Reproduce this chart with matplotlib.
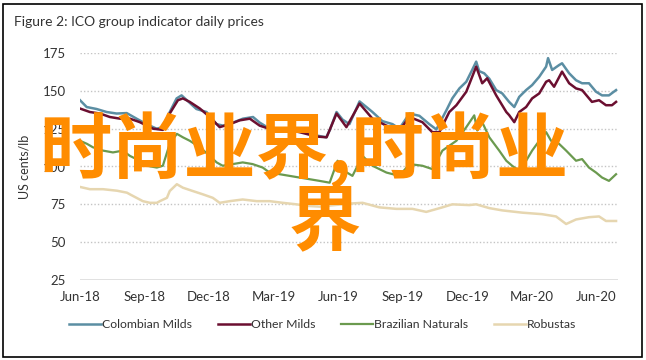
import matplotlib
matplotlib.use("Agg")
import matplotlib.pyplot as plt
from matplotlib.patches import Rectangle

plt.rcParams['font.family'] = ['Lato', 'DejaVu Sans']

# months since Jun-2018
tick_pos = [0, 3, 6, 9, 12, 15, 18, 21, 24]
tick_labels = ['Jun-18', 'Sep-18', 'Dec-18', 'Mar-19', 'Jun-19',
               'Sep-19', 'Dec-19', 'Mar-20', 'Jun-20']

colombian_x = [0.0, 0.31, 0.77, 1.24, 1.70, 2.17, 2.63, 3.09, 3.56, 3.86, 4.17, 4.49, 4.72,
               4.95, 5.41, 5.88, 6.34, 6.65, 7.11, 7.57, 8.04, 8.35, 8.81, 9.43, 10.05,
               10.51, 10.98, 11.44, 11.6, 11.92, 12.2, 12.52, 12.99, 13.31, 13.59, 14.05,
               14.52, 14.84, 15.31, 15.77, 16.23, 16.56, 17.02, 17.3, 17.63, 17.95, 18.23,
               18.41, 18.55, 18.78, 19.02, 19.34, 19.62, 19.94, 20.18, 20.41, 20.73, 21.01,
               21.34, 21.66, 21.75, 21.94, 22.26, 22.4, 22.73, 23.05, 23.33, 23.65, 23.98,
               24.26, 24.58, 24.91]
colombian_y = [143.8, 139.3, 138, 136, 135, 135.3, 131.6, 128, 125, 126, 136, 145, 147,
               144, 138, 136, 128, 127, 129, 131.6, 132.7, 129, 125, 124.2, 123.8,
               122.7, 120.5, 119.3, 123.8, 136, 131, 128, 143, 139.3, 136, 130,
               128, 125, 135, 133.5, 128, 124.5, 137, 145, 151.6, 156, 164,
               169.3, 163, 161.6, 158, 150.5, 148.3, 142.7, 139.3, 146, 150.5, 153.8,
               159.3, 166, 171.6, 163.8, 167, 168.2, 161.6, 157, 155, 155, 149.4,
               147, 147, 150.5]

other_x = [0, 0.46, 0.93, 1.39, 1.86, 2.32, 2.78, 3.39, 3.85, 4.17, 4.55, 4.78, 5.1, 5.57,
           6.03, 6.49, 6.96, 7.42, 7.89, 8.35, 8.95, 9.6, 10.2, 10.99, 11.46, 11.92, 12.38,
           12.99, 13.59, 14.24, 14.84, 15.31, 15.91, 16.37, 16.7, 17.16, 17.49, 17.95,
           18.41, 18.69, 18.92, 19.34, 19.81, 19.94, 20.18, 20.41, 20.73, 21.01, 21.34,
           21.66, 21.8, 22.03, 22.4, 22.73, 23.05, 23.33, 23.79, 24.12, 24.44, 24.72, 24.91]
other_y = [138.3, 136, 135, 132.7, 131.6, 131.6, 129.3, 125, 124.2, 135, 143.8, 145, 142.7,
           138.3, 132.7, 126, 128, 130.5, 131.6, 127, 124.2, 124.2, 122.7, 119.8, 119.3, 135,
           126, 141.6, 131.6, 127, 123.8, 132.7, 129.3, 122.7, 122.7, 136, 140.5, 149.4,
           166, 155, 158.3, 147, 136, 134, 129.3, 136, 139.3, 145, 148.3,
           156, 157, 152.7, 162.7, 155, 151.6, 150.5, 142.7, 143.8, 140.5, 140.5, 142.7]

brazil_x = [0, 0.32, 0.6, 1.07, 1.53, 1.99, 2.32, 2.78, 3.11, 3.57, 3.85, 4.17, 4.5, 4.78,
            5.1, 5.57, 6.03, 6.35, 6.63, 7.1, 7.56, 8.02, 8.49, 8.81, 9.28, 9.74, 10.2,
            10.67, 11.13, 11.6, 11.97, 12.29, 12.66, 13.13, 13.59, 14.24, 14.84, 15.31,
            15.91, 16.37, 16.84, 17.49, 17.95, 18.32, 18.46, 18.69, 19.02, 19.48, 19.81,
            20.08, 20.41, 20.73, 21.01, 21.34, 21.66, 21.89, 22.26, 22.59, 23.05, 23.33,
            23.65, 23.98, 24.26, 24.58, 24.91]
brazil_y = [117, 115, 112.7, 110.5, 109.3, 110.5, 107, 103.8, 100.5, 99.3, 100.5, 115, 121.6,
            119.3, 117, 112.7, 107, 102.7, 100.5, 101.6, 102.7, 101.6, 99.3, 96, 94.9, 93.8,
            92.7, 91.6, 90.5, 89.3, 103.8, 97, 93.8, 107, 100.5, 96, 93.8, 101.6,
            100.5, 98.3, 110.5, 117, 126, 133.8, 123.8, 129.3, 119.3, 110.5, 103.8,
            100.5, 97, 103.8, 110.5, 117, 122.7, 117, 115, 110.5, 103.8, 104.9,
            99.3, 96, 92.7, 90.5, 94.9]

robusta_x = [0, 0.46, 1.07, 1.72, 2.18, 2.32, 2.92, 3.25, 3.57, 3.71, 4.04, 4.17, 4.5, 4.78,
             5.24, 5.71, 6.17, 6.49, 6.96, 7.56, 8.21, 8.81, 9.42, 10.06, 10.53, 11.13,
             11.83, 12.52, 13.13, 13.91, 14.7, 15.45, 16.09, 16.84, 17.3, 18.09, 18.41,
             19.02, 19.62, 20.55, 21.47, 22.12, 22.59, 23.05, 23.65, 24.12, 24.44, 24.91]
robusta_y = [86.5, 85, 85, 84, 82.7, 81.6, 77.1, 76, 76, 77.1, 79.3, 83.8, 88.3, 86,
             83.8, 81.6, 79.3, 76, 77.1, 78.2, 77.1, 77.1, 76, 75, 74, 73.5,
             74.5, 75.5, 76, 73, 72, 72, 70, 73, 75, 74.5, 75,
             72.5, 71, 69.5, 68.5, 67, 62, 65, 66.5, 67, 64, 64]

fig = plt.figure(figsize=(6.46, 3.60), dpi=100)
ax = fig.add_axes([80 / 646, 80 / 360, 538 / 646, 227 / 360])

for y in [50, 75, 100, 125, 150, 175]:
    ax.axhline(y, color='#c4c4c4', lw=1, linestyle=(0, (1, 1.5)), zorder=0)
ax.axhline(25, color='#dcdcdc', lw=1.2, zorder=0)

ax.plot(robusta_x, robusta_y, color='#e6d6b0', lw=1.8, label='Robustas')
ax.plot(brazil_x, brazil_y, color='#6b9a4f', lw=1.6, label='Brazilian Naturals')
ax.plot(colombian_x, colombian_y, color='#5b8ea3', lw=1.8, label='Colombian Milds')
ax.plot(other_x, other_y, color='#6b0f30', lw=1.8, label='Other Milds')

ax.set_xlim(0, 25)
ax.set_ylim(25, 175)
ax.set_yticks([25, 50, 75, 100, 125, 150, 175])
ax.set_xticks(tick_pos)
ax.set_xticklabels(tick_labels)
ax.tick_params(length=0, labelsize=9.5, colors='#333333')
ax.tick_params(axis='y', pad=10)
ax.tick_params(axis='x', pad=8)
for s in ax.spines.values():
    s.set_visible(False)
ax.set_ylabel('US cents/lb', fontsize=9, color='#333333', labelpad=9)

h, l = ax.get_legend_handles_labels()
order = [2, 3, 1, 0]
fig.legend([h[i] for i in order], [l[i] for i in order], loc='center',
           bbox_to_anchor=(323 / 646, 1 - 325 / 360), ncol=4, frameon=False,
           fontsize=8.8, handlelength=2.6, handletextpad=0.1, columnspacing=2.1,
           labelcolor='#333333')

fig.text(14 / 646, 1 - 22 / 360, 'Figure 2: ICO group indicator daily prices',
         fontsize=10, color='#333333', va='center', ha='left')

# orange watermark overlay
fig.text(304 / 646, 1 - 150 / 360, '时尚业界,时尚业', fontsize=52, color='#ff8c00',
         family=['Noto Sans CJK SC', 'DejaVu Sans'], weight='bold',
         ha='center', va='center')
fig.text(325 / 646, 1 - 223 / 360, '界', fontsize=52, color='#ff8c00',
         family=['Noto Sans CJK SC', 'DejaVu Sans'], weight='bold',
         ha='center', va='center')

fig.patches.append(Rectangle((3 / 646, 3 / 360), 639 / 646, 353 / 360,
                             transform=fig.transFigure, fill=False,
                             edgecolor='black', lw=1.2))

fig.savefig('out.png', dpi=100)
